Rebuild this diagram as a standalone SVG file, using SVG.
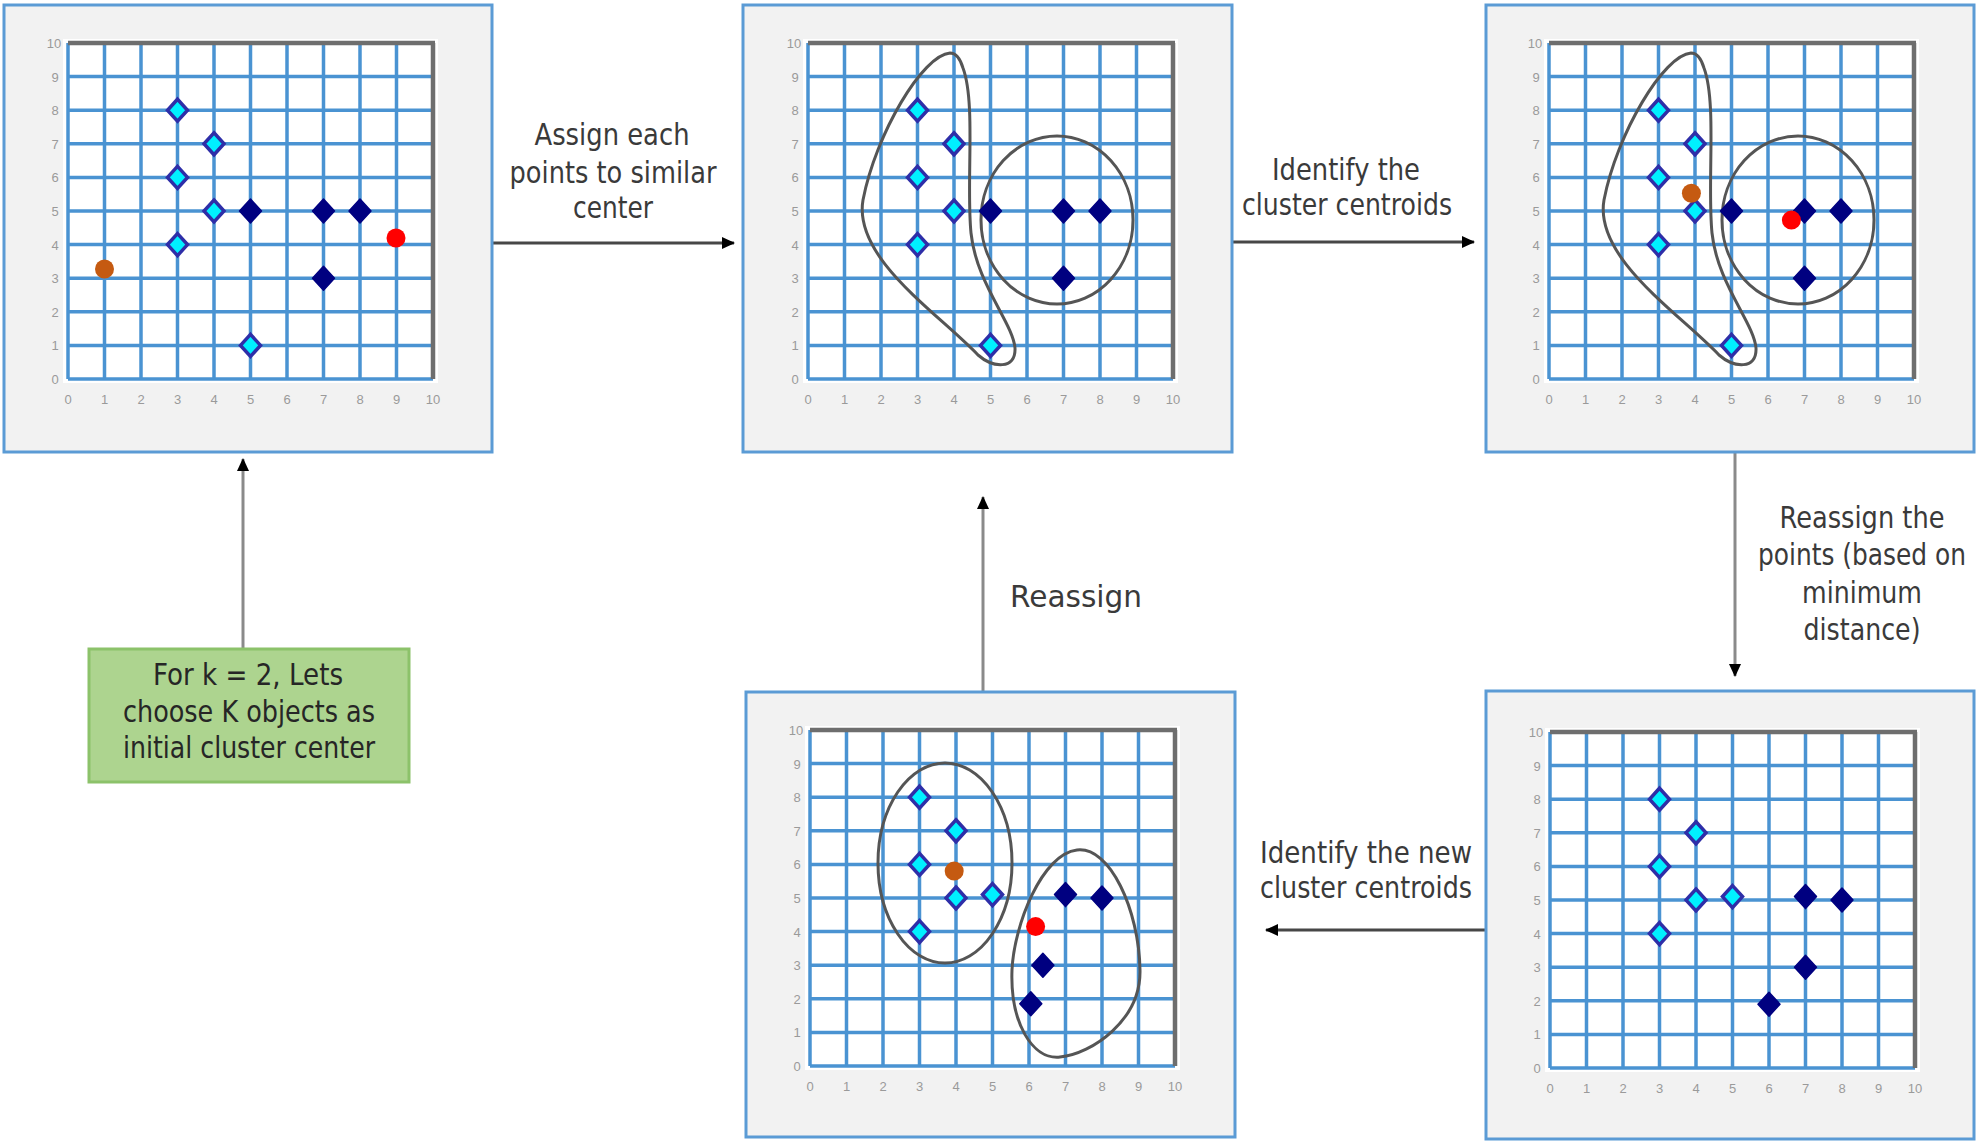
<svg xmlns="http://www.w3.org/2000/svg" xmlns:xlink="http://www.w3.org/1999/xlink" width="1977" height="1142" viewBox="0 0 1977 1142">
<style>
.panel{fill:#f2f2f2;stroke:#5b9bd5;stroke-width:3}
.gl{stroke:#4a93d2;stroke-width:3.5}
.gb{stroke:#6e6e6e;stroke-width:4.5}
.tk{font-family:"Liberation Sans",Arial,sans-serif;font-size:13px;fill:#9a9a9a}
.lbl{font-family:"DejaVu Sans","Liberation Sans",sans-serif;font-size:30px;fill:#3a3a3a;text-anchor:middle}
.hull{fill:none;stroke:#555;stroke-width:3}
.conn{fill:none;stroke-width:3}
.h{stroke:#474747}
.v{stroke:#8a8a8a}
.green{fill:#add48f;stroke:#8cc26a;stroke-width:3}
.lt{font-family:"DejaVu Sans","Liberation Sans",sans-serif;font-size:30px;fill:#262626;text-anchor:middle}
</style>
<defs>
<marker id="ah" markerUnits="userSpaceOnUse" markerWidth="14" markerHeight="14" refX="12" refY="7" orient="auto">
<path d="M0,1 L13,7 L0,13 Z" fill="#000"/>
</marker>
<path id="lp" d="M0,-11 L10,0 L0,11 L-10,0 Z" fill="#00f0ff" stroke="#2e2ea8" stroke-width="3.5"/>
<path id="dp" d="M0,-12 L11,0 L0,12 L-11,0 Z" fill="#000080" stroke="#000080" stroke-width="1.5" stroke-linejoin="round"/>
<circle id="bc" r="9.5" fill="#c55a11"/>
<circle id="rc" r="9.5" fill="#ff0000"/>
<g id="plot">
<rect x="-5" y="-4" width="375" height="344" fill="#ffffff"/>
<g class="gl">
<line x1="0" y1="0" x2="0" y2="336"/>
<line x1="36.5" y1="0" x2="36.5" y2="336"/>
<line x1="73" y1="0" x2="73" y2="336"/>
<line x1="109.5" y1="0" x2="109.5" y2="336"/>
<line x1="146" y1="0" x2="146" y2="336"/>
<line x1="182.5" y1="0" x2="182.5" y2="336"/>
<line x1="219" y1="0" x2="219" y2="336"/>
<line x1="255.5" y1="0" x2="255.5" y2="336"/>
<line x1="292" y1="0" x2="292" y2="336"/>
<line x1="328.5" y1="0" x2="328.5" y2="336"/>
<line x1="0" y1="336" x2="365" y2="336"/>
<line x1="0" y1="302.4" x2="365" y2="302.4"/>
<line x1="0" y1="268.8" x2="365" y2="268.8"/>
<line x1="0" y1="235.2" x2="365" y2="235.2"/>
<line x1="0" y1="201.6" x2="365" y2="201.6"/>
<line x1="0" y1="168" x2="365" y2="168"/>
<line x1="0" y1="134.4" x2="365" y2="134.4"/>
<line x1="0" y1="100.8" x2="365" y2="100.8"/>
<line x1="0" y1="67.2" x2="365" y2="67.2"/>
<line x1="0" y1="33.6" x2="365" y2="33.6"/>
</g>
<g class="gb">
<line x1="0" y1="0" x2="367" y2="0"/>
<line x1="365" y1="0" x2="365" y2="336"/>
</g>
<g class="tk" text-anchor="middle">
<text x="-13" y="341">0</text>
<text x="-13" y="307">1</text>
<text x="-13" y="274">2</text>
<text x="-13" y="240">3</text>
<text x="-13" y="207">4</text>
<text x="-13" y="173">5</text>
<text x="-13" y="139">6</text>
<text x="-13" y="106">7</text>
<text x="-13" y="72">8</text>
<text x="-13" y="39">9</text>
<text x="-14" y="5">10</text>
<text x="0" y="361">0</text>
<text x="36.5" y="361">1</text>
<text x="73" y="361">2</text>
<text x="109.5" y="361">3</text>
<text x="146" y="361">4</text>
<text x="182.5" y="361">5</text>
<text x="219" y="361">6</text>
<text x="255.5" y="361">7</text>
<text x="292" y="361">8</text>
<text x="328.5" y="361">9</text>
<text x="365" y="361">10</text>
</g>
</g>
<g id="pts1">
<use href="#lp" x="109.5" y="67.2"/>
<use href="#lp" x="146" y="100.8"/>
<use href="#lp" x="109.5" y="134.4"/>
<use href="#lp" x="146" y="168"/>
<use href="#lp" x="109.5" y="201.6"/>
<use href="#lp" x="182.5" y="302.4"/>
<use href="#dp" x="182.5" y="168"/>
<use href="#dp" x="255.5" y="168"/>
<use href="#dp" x="292" y="168"/>
<use href="#dp" x="255.5" y="235.2"/>
</g>
<g id="pts2">
<use href="#lp" x="109.5" y="67.2"/>
<use href="#lp" x="146" y="100.8"/>
<use href="#lp" x="109.5" y="134.4"/>
<use href="#lp" x="146" y="168"/>
<use href="#lp" x="182.5" y="164.6"/>
<use href="#lp" x="109.5" y="201.6"/>
<use href="#dp" x="255.5" y="164.6"/>
<use href="#dp" x="292" y="168"/>
</g>
<g id="hulls1">
<path class="hull" d="M142,10 C115,12 68,90 55,157 C45,215 130,270 170,312 C185,325 208,327 207,305 C205,280 168,240 163,190 C158,140 168,60 155,25 C152,15 148,10 142,10 Z"/>
<ellipse class="hull" cx="249" cy="177" rx="76" ry="84"/>
</g>
</defs>

<g id="connectors">
<path class="conn h" d="M493,243 L734,243" marker-end="url(#ah)"/>
<path class="conn h" d="M1233,242 L1474,242" marker-end="url(#ah)"/>
<path class="conn v" d="M1735,453 L1735,676" marker-end="url(#ah)"/>
<path class="conn h" d="M1486,930 L1266,930" marker-end="url(#ah)"/>
<path class="conn v" d="M983,692 L983,497" marker-end="url(#ah)"/>
<path class="conn v" d="M243,648 L243,459" marker-end="url(#ah)"/>
</g>

<g id="panel1">
<rect class="panel" x="4" y="5" width="488" height="447"/>
<g transform="translate(68,43)">
<use href="#plot"/>
<use href="#pts1"/>
<use href="#bc" x="36.5" y="226"/>
<use href="#rc" x="328" y="195"/>
</g>
</g>

<g id="panel2">
<rect class="panel" x="743" y="5" width="489" height="447"/>
<g transform="translate(808,43)">
<use href="#plot"/>
<use href="#hulls1"/>
<use href="#pts1"/>
</g>
</g>

<g id="panel3">
<rect class="panel" x="1486" y="5" width="488" height="447"/>
<g transform="translate(1549,43)">
<use href="#plot"/>
<use href="#hulls1"/>
<use href="#pts1"/>
<use href="#bc" x="142.4" y="150.2"/>
<use href="#rc" x="242.4" y="177.1"/>
</g>
</g>

<g id="panel4">
<rect class="panel" x="1486" y="691" width="488" height="448"/>
<g transform="translate(1550,732)">
<use href="#plot"/>
<use href="#pts2"/>
<use href="#dp" x="255.5" y="235.2"/>
<use href="#dp" x="219" y="272.2"/>
</g>
</g>

<g id="panel5">
<rect class="panel" x="746" y="692" width="489" height="445"/>
<g transform="translate(810,730)">
<use href="#plot"/>
<ellipse class="hull" cx="135" cy="133" rx="67" ry="100"/>
<path class="hull" d="M267,120 C232,124 204,195 202,240 C200,292 222,330 250,327 C282,324 331,290 330,240 C329,180 300,116 267,120 Z"/>
<use href="#pts2"/>
<use href="#bc" x="144.2" y="141.1"/>
<use href="#rc" x="225.6" y="196.6"/>
<use href="#dp" x="232.9" y="235.2"/>
<use href="#dp" x="220.8" y="273.8"/>
</g>
</g>

<g id="start">
<rect class="green" x="89" y="649" width="320" height="133"/>
<text class="lt" x="248" y="685" textLength="190" lengthAdjust="spacingAndGlyphs">For k = 2, Lets</text>
<text class="lt" x="249" y="722" textLength="252" lengthAdjust="spacingAndGlyphs">choose K objects as</text>
<text class="lt" x="249" y="758" textLength="252" lengthAdjust="spacingAndGlyphs">initial cluster center</text>
</g>

<g id="labels">
<text class="lbl" x="612" y="145" textLength="155" lengthAdjust="spacingAndGlyphs">Assign each</text>
<text class="lbl" x="613" y="183" textLength="207" lengthAdjust="spacingAndGlyphs">points to similar</text>
<text class="lbl" x="613" y="218" textLength="80" lengthAdjust="spacingAndGlyphs">center</text>
<text class="lbl" x="1346" y="180" textLength="148" lengthAdjust="spacingAndGlyphs">Identify the</text>
<text class="lbl" x="1347" y="215" textLength="210" lengthAdjust="spacingAndGlyphs">cluster centroids</text>
<text class="lbl" x="1862" y="528" textLength="165" lengthAdjust="spacingAndGlyphs">Reassign the</text>
<text class="lbl" transform="translate(1862,565) scale(0.83,1)" x="0" y="0">points (based on</text>
<text class="lbl" x="1862" y="603" textLength="120" lengthAdjust="spacingAndGlyphs">minimum</text>
<text class="lbl" x="1862" y="640" textLength="117" lengthAdjust="spacingAndGlyphs">distance)</text>
<text class="lbl" x="1366" y="863" textLength="212" lengthAdjust="spacingAndGlyphs">Identify the new</text>
<text class="lbl" x="1366" y="898" textLength="212" lengthAdjust="spacingAndGlyphs">cluster centroids</text>
<text class="lbl" x="1076" y="607" textLength="132" lengthAdjust="spacingAndGlyphs">Reassign</text>
</g>
</svg>
